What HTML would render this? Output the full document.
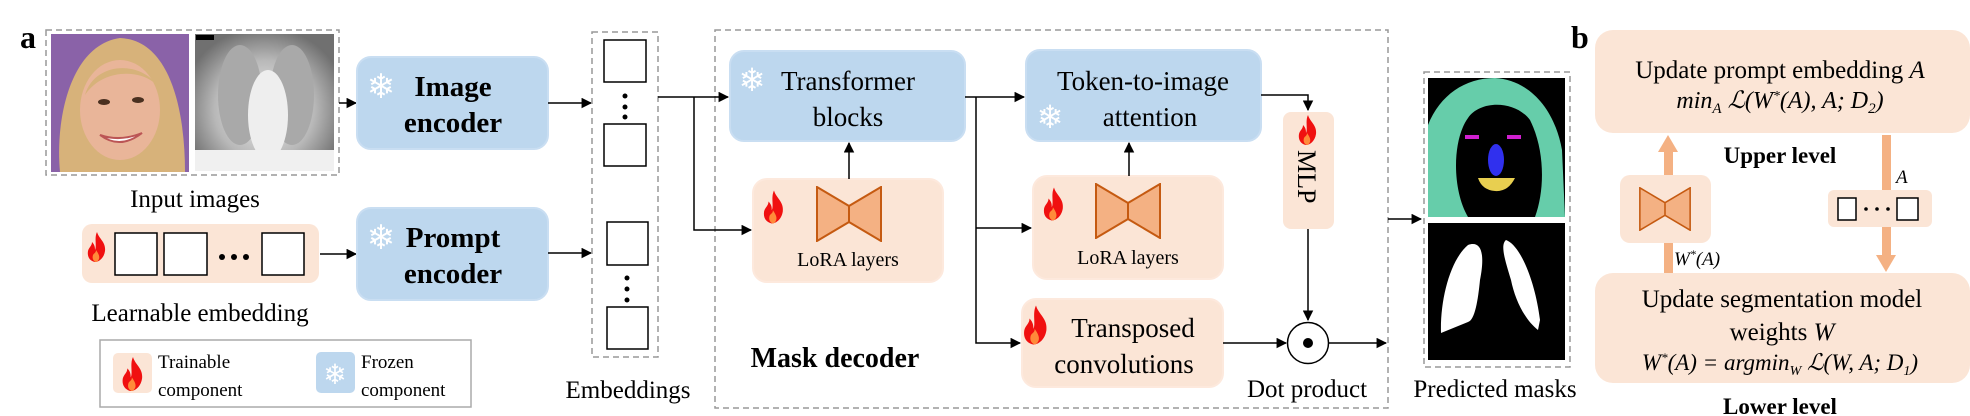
<!DOCTYPE html>
<html><head><meta charset="utf-8"><style>
html,body{margin:0;padding:0;background:#fff;width:1970px;height:416px;overflow:hidden}
svg text{font-family:"Liberation Serif","DejaVu Serif",serif}
</style></head><body>
<svg width="1970" height="416" viewBox="0 0 1970 416" xmlns="http://www.w3.org/2000/svg">
<defs>
<marker id="ar" viewBox="0 0 10 10" refX="9" refY="5" markerWidth="7" markerHeight="7" orient="auto"><path d="M0,0L10,5L0,10z" fill="#000"/></marker>
<symbol id="fl" viewBox="0 0 20 30"><path d="M10,0C12,7 19,10 18,19C17,26 12,30 8,30C3,29 0,25 1,19C2,15 5,14 5,10C8,13 8,16 8,18C10,14 7,6 10,0z" fill="#f01010"/><path d="M9,30C6,29 5,26 6,23C7,21 9,21 9,18C11,21 13,24 12,27C11,29 10,30 9,30z" fill="#ff8a3a"/></symbol>
<symbol id="bt" viewBox="0 0 66 56"><path d="M1,1L33,20L33,36L1,55z M65,1L33,20L33,36L65,55z" fill="#f4b183" stroke="#c55a11" stroke-width="2"/></symbol>
</defs>
<!-- a -->
<text x="20" y="48" font-size="32" font-weight="bold">a</text>
<rect x="46" y="30" width="293" height="145" fill="none" stroke="#999" stroke-width="1.5" stroke-dasharray="6,4"/>
<!-- face -->
<rect x="51" y="34" width="138" height="138" fill="#8a62a8"/>
<path d="M60,172C55,120 70,45 120,38C170,40 185,110 185,172z" fill="#d7b27a"/>
<ellipse cx="120" cy="110" rx="40" ry="50" fill="#e9b599"/>
<path d="M85,95C95,60 145,60 160,90C150,70 105,65 85,95z" fill="#d7b27a"/>
<path d="M100,135Q120,150 142,133Q120,142 100,135z" fill="#fff" stroke="#b55" stroke-width="2"/>
<ellipse cx="104" cy="102" rx="6" ry="3" fill="#4a3020"/><ellipse cx="138" cy="100" rx="6" ry="3" fill="#4a3020"/>
<!-- xray -->
<defs><radialGradient id="xr" cx="0.5" cy="0.55" r="0.6"><stop offset="0" stop-color="#f2f2f2"/><stop offset="0.6" stop-color="#b8b8b8"/><stop offset="1" stop-color="#707070"/></radialGradient></defs>
<rect x="195" y="34" width="139" height="137" fill="url(#xr)"/>
<ellipse cx="240" cy="95" rx="22" ry="50" fill="#a9a9a9"/><ellipse cx="292" cy="95" rx="22" ry="50" fill="#a9a9a9"/>
<ellipse cx="268" cy="115" rx="20" ry="45" fill="#eee"/><rect x="195" y="150" width="139" height="21" fill="#f0f0f0"/>
<rect x="196" y="35" width="18" height="5" fill="#000"/>
<text x="195" y="207" font-size="25" text-anchor="middle">Input images</text>
<!-- encoders -->
<line x1="339" y1="103" x2="356" y2="103" stroke="#000" stroke-width="1.5" marker-end="url(#ar)"/>
<rect x="357" y="57" width="191" height="92" rx="14" fill="#bdd7ee" stroke="#c9def2" stroke-width="2"/>
<text x="381" y="98" font-size="34" fill="#fff" text-anchor="middle" font-family="DejaVu Sans">❄</text>
<text x="453" y="96" font-size="29" font-weight="bold" text-anchor="middle">Image</text>
<text x="453" y="132" font-size="29" font-weight="bold" text-anchor="middle">encoder</text>
<rect x="82" y="224" width="237" height="59" rx="10" fill="#fbe5d6"/>
<use href="#fl" x="86" y="232" width="22" height="30"/>
<rect x="115" y="233" width="42" height="42" fill="#fff" stroke="#000" stroke-width="1.5"/>
<rect x="164" y="233" width="43" height="42" fill="#fff" stroke="#000" stroke-width="1.5"/>
<circle cx="222" cy="257" r="3"/><circle cx="234" cy="257" r="3"/><circle cx="246" cy="257" r="3"/>
<rect x="262" y="233" width="42" height="42" fill="#fff" stroke="#000" stroke-width="1.5"/>
<text x="200" y="321" font-size="25" text-anchor="middle">Learnable embedding</text>
<line x1="320" y1="254" x2="356" y2="254" stroke="#000" stroke-width="1.5" marker-end="url(#ar)"/>
<rect x="357" y="208" width="191" height="92" rx="14" fill="#bdd7ee" stroke="#c9def2" stroke-width="2"/>
<text x="381" y="249" font-size="34" fill="#fff" text-anchor="middle" font-family="DejaVu Sans">❄</text>
<text x="453" y="247" font-size="29" font-weight="bold" text-anchor="middle">Prompt</text>
<text x="453" y="283" font-size="29" font-weight="bold" text-anchor="middle">encoder</text>
<!-- legend -->
<rect x="100" y="340" width="371" height="67" fill="none" stroke="#aaa" stroke-width="1.5"/>
<rect x="113" y="353" width="39" height="40" rx="5" fill="#fbe5d6"/>
<use href="#fl" x="120" y="357" width="26" height="34"/>
<text x="158" y="368" font-size="19">Trainable</text><text x="158" y="396" font-size="19">component</text>
<rect x="316" y="352" width="39" height="41" rx="5" fill="#bdd7ee"/>
<text x="335" y="384" font-size="28" fill="#fff" text-anchor="middle" font-family="DejaVu Sans">❄</text>
<text x="361" y="368" font-size="19">Frozen</text><text x="361" y="396" font-size="19">component</text>
<!-- connectors to embeddings -->
<line x1="548" y1="103" x2="591" y2="103" stroke="#000" stroke-width="1.5" marker-end="url(#ar)"/>
<line x1="548" y1="253" x2="591" y2="253" stroke="#000" stroke-width="1.5" marker-end="url(#ar)"/>
<!-- embeddings -->
<rect x="592" y="32" width="66" height="325" fill="none" stroke="#999" stroke-width="1.5" stroke-dasharray="6,4"/>
<rect x="604" y="40" width="42" height="42" fill="#fff" stroke="#000" stroke-width="1.5"/>
<circle cx="625" cy="96" r="2.5"/><circle cx="625" cy="107" r="2.5"/><circle cx="625" cy="117" r="2.5"/>
<rect x="604" y="124" width="42" height="42" fill="#fff" stroke="#000" stroke-width="1.5"/>
<rect x="607" y="222" width="41" height="43" fill="#fff" stroke="#000" stroke-width="1.5"/>
<circle cx="627" cy="278" r="2.5"/><circle cx="627" cy="289" r="2.5"/><circle cx="627" cy="300" r="2.5"/>
<rect x="607" y="307" width="41" height="42" fill="#fff" stroke="#000" stroke-width="1.5"/>
<text x="628" y="398" font-size="25" text-anchor="middle">Embeddings</text>
<!-- mask decoder -->
<rect x="715" y="30" width="673" height="378" fill="none" stroke="#999" stroke-width="1.5" stroke-dasharray="6,4"/>
<polyline points="658,97 728,97" fill="none" stroke="#000" stroke-width="1.5" marker-end="url(#ar)"/>
<polyline points="694,97 694,230 751,230" fill="none" stroke="#000" stroke-width="1.5" marker-end="url(#ar)"/>
<rect x="730" y="51" width="235" height="90" rx="14" fill="#bdd7ee" stroke="#c9def2" stroke-width="2"/>
<text x="752" y="91" font-size="32" fill="#fff" text-anchor="middle" font-family="DejaVu Sans">❄</text>
<text x="848" y="90" font-size="27" text-anchor="middle">Transformer</text>
<text x="848" y="126" font-size="27" text-anchor="middle">blocks</text>
<rect x="753" y="179" width="190" height="103" rx="14" fill="#fbe5d6" stroke="#fde9dd" stroke-width="2"/>
<use href="#fl" x="763" y="186" width="22" height="42"/>
<use href="#bt" x="816" y="186" width="66" height="56"/>
<text x="848" y="266" font-size="20" text-anchor="middle">LoRA layers</text>
<line x1="849" y1="179" x2="849" y2="143" stroke="#000" stroke-width="1.5" marker-end="url(#ar)"/>
<line x1="965" y1="97" x2="1024" y2="97" stroke="#000" stroke-width="1.5" marker-end="url(#ar)"/>
<polyline points="976,97 976,343 1020,343" fill="none" stroke="#000" stroke-width="1.5" marker-end="url(#ar)"/>
<line x1="976" y1="228" x2="1031" y2="228" stroke="#000" stroke-width="1.5" marker-end="url(#ar)"/>
<rect x="1026" y="50" width="235" height="91" rx="14" fill="#bdd7ee" stroke="#c9def2" stroke-width="2"/>
<text x="1143" y="90" font-size="27" text-anchor="middle">Token-to-image</text>
<text x="1150" y="126" font-size="27" text-anchor="middle">attention</text>
<text x="1050" y="128" font-size="32" fill="#fff" text-anchor="middle" font-family="DejaVu Sans">❄</text>
<rect x="1033" y="176" width="190" height="103" rx="14" fill="#fbe5d6" stroke="#fde9dd" stroke-width="2"/>
<use href="#fl" x="1043" y="183" width="22" height="42"/>
<use href="#bt" x="1095" y="183" width="66" height="56"/>
<text x="1128" y="264" font-size="20" text-anchor="middle">LoRA layers</text>
<line x1="1129" y1="176" x2="1129" y2="143" stroke="#000" stroke-width="1.5" marker-end="url(#ar)"/>
<rect x="1022" y="299" width="201" height="88" rx="14" fill="#fbe5d6" stroke="#fde9dd" stroke-width="2"/>
<use href="#fl" x="1023" y="303" width="26" height="44"/>
<text x="1133" y="337" font-size="27" text-anchor="middle">Transposed</text>
<text x="1124" y="373" font-size="27" text-anchor="middle">convolutions</text>
<text x="835" y="367" font-size="28" font-weight="bold" text-anchor="middle">Mask decoder</text>
<!-- MLP / dot -->
<polyline points="1261,95 1308,95 1308,110" fill="none" stroke="#000" stroke-width="1.5" marker-end="url(#ar)"/>
<rect x="1283" y="112" width="51" height="117" rx="8" fill="#fbe5d6"/>
<use href="#fl" x="1298" y="114" width="20" height="32"/>
<text x="0" y="0" font-size="26" transform="translate(1298,150) rotate(90)">MLP</text>
<line x1="1308" y1="229" x2="1308" y2="320" stroke="#000" stroke-width="1.5" marker-end="url(#ar)"/>
<line x1="1223" y1="343" x2="1286" y2="343" stroke="#000" stroke-width="1.5" marker-end="url(#ar)"/>
<circle cx="1308" cy="343" r="20.5" fill="#fff" stroke="#000" stroke-width="1.5"/>
<circle cx="1308" cy="343" r="5"/>
<line x1="1329" y1="343" x2="1386" y2="343" stroke="#000" stroke-width="1.5" marker-end="url(#ar)"/>
<text x="1307" y="397" font-size="25" text-anchor="middle">Dot product</text>
<!-- masks -->
<line x1="1388" y1="219" x2="1421" y2="219" stroke="#000" stroke-width="1.5" marker-end="url(#ar)"/>
<rect x="1424" y="72" width="146" height="295" fill="none" stroke="#999" stroke-width="1.5" stroke-dasharray="6,4"/>
<rect x="1428" y="78" width="137" height="139" fill="#000"/>
<path d="M1428,217L1428,125C1440,95 1465,78 1495,78C1530,80 1555,110 1562,150L1565,217L1535,217C1545,190 1545,150 1530,120C1515,100 1480,100 1468,118C1452,140 1452,190 1468,217z" fill="#66cdaa"/>
<rect x="1465" y="135" width="14" height="4" fill="#d020d0"/><rect x="1507" y="135" width="14" height="4" fill="#d020d0"/>
<ellipse cx="1496" cy="160" rx="8" ry="16" fill="#3030ee"/>
<path d="M1478,178L1515,178Q1508,192 1495,191Q1482,190 1478,178z" fill="#e8cf50"/>
<rect x="1428" y="223" width="137" height="137" fill="#000"/>
<path d="M1468,245C1482,240 1485,255 1480,280C1478,300 1475,320 1468,322L1441,333C1440,300 1450,260 1468,245z" fill="#fff"/>
<path d="M1506,240C1520,245 1535,280 1540,320L1538,330C1525,320 1515,300 1511,280C1505,260 1500,245 1506,240z" fill="#fff"/>
<text x="1495" y="397" font-size="25" text-anchor="middle">Predicted masks</text>
<!-- b -->
<text x="1571" y="48" font-size="32" font-weight="bold">b</text>
<rect x="1595" y="30" width="375" height="103" rx="18" fill="#fbe5d6"/>
<text x="1780" y="78" font-size="25" text-anchor="middle">Update prompt embedding <tspan font-style="italic">A</tspan></text>
<text x="1780" y="108" font-size="24" font-style="italic" text-anchor="middle">min<tspan font-size="15" dy="5">A</tspan><tspan dy="-5"> ℒ(W</tspan><tspan font-size="14" dy="-8">*</tspan><tspan dy="8">(A), A;  D</tspan><tspan font-size="15" dy="5">2</tspan><tspan dy="-5">)</tspan></text>
<text x="1780" y="163" font-size="23" font-weight="bold" text-anchor="middle">Upper level</text>
<rect x="1664" y="150" width="9" height="123" fill="#f4b183"/>
<path d="M1658,152L1668,135L1678,152z" fill="#f4b183"/>
<rect x="1620" y="175" width="91" height="68" rx="10" fill="#fbe5d6"/>
<use href="#bt" x="1634" y="187" width="62" height="44"/>
<text x="1674" y="265" font-size="19" font-style="italic">W<tspan font-size="12" dy="-7">*</tspan><tspan dy="7">(A)</tspan></text>
<rect x="1882" y="135" width="9" height="120" fill="#f4b183"/>
<path d="M1876,255L1886,272L1896,255z" fill="#f4b183"/>
<text x="1896" y="183" font-size="19" font-style="italic">A</text>
<rect x="1828" y="190" width="104" height="37" rx="6" fill="#fbe5d6"/>
<rect x="1838" y="198" width="18" height="22" fill="#fff" stroke="#000" stroke-width="1.5"/>
<circle cx="1866" cy="209" r="1.8"/><circle cx="1877" cy="209" r="1.8"/><circle cx="1888" cy="209" r="1.8"/>
<rect x="1897" y="198" width="21" height="22" fill="#fff" stroke="#000" stroke-width="1.5"/>
<rect x="1595" y="273" width="375" height="110" rx="18" fill="#fbe5d6"/>
<text x="1782" y="307" font-size="25" text-anchor="middle">Update segmentation model</text>
<text x="1782" y="340" font-size="25" text-anchor="middle">weights <tspan font-style="italic">W</tspan></text>
<text x="1780" y="370" font-size="23" font-style="italic" text-anchor="middle">W<tspan font-size="13" dy="-8">*</tspan><tspan dy="8">(A) = argmin</tspan><tspan font-size="14" dy="5">W</tspan><tspan dy="-5"> ℒ(W, A;  D</tspan><tspan font-size="14" dy="5">1</tspan><tspan dy="-5">)</tspan></text>
<text x="1780" y="414" font-size="23" font-weight="bold" text-anchor="middle">Lower level</text>
</svg>
</body></html>
